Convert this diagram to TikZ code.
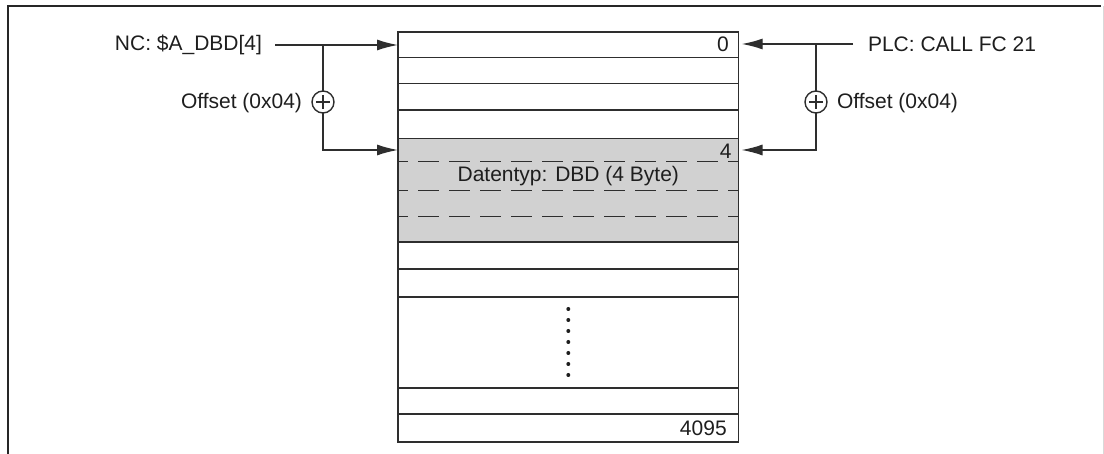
\documentclass[tikz,border=0pt]{standalone}
\usepackage{fontspec}
\setmainfont{Liberation Sans}
\usetikzlibrary{arrows.meta,calc}
\definecolor{linec}{HTML}{2E2E2E}
\definecolor{txtc}{HTML}{1E1E1E}
\definecolor{fillg}{HTML}{D1D1D1}
\begin{document}
\begin{tikzpicture}[x=1pt,y=-1pt,
 lbl/.style={font=\fontsize{21}{25}\selectfont, text=txtc, inner sep=0pt, outer sep=0pt},
 row/.style={draw=linec, line width=1.4pt, minimum width=340.7pt, inner sep=0pt, outer sep=0pt, anchor=north west},
 conn/.style={draw=linec, line width=1.4pt},
 arr/.style={conn, -{Latex[length=21pt,width=11pt]}},
 plus/.style={circle, draw=linec, line width=1.4pt, minimum size=22pt, inner sep=0pt, outer sep=0pt, fill=white,
   path picture={\draw[linec, line width=1.4pt]
     ([xshift=-7pt]path picture bounding box.center) -- ([xshift=7pt]path picture bounding box.center)
     ([yshift=-7pt]path picture bounding box.center) -- ([yshift=7pt]path picture bounding box.center);}},
 dsh/.style={draw=linec, line width=1.4pt, dash pattern=on 21pt off 10pt, dash phase=11pt}]
\useasboundingbox (0,0) rectangle (1104,454);
% frame
\draw[line width=2.2pt, color=black!85] (8,454) -- (8,6) -- (1101,6);
\draw[line width=1pt, color=black!15] (1103,6) -- (1103,454);
% memory rows
\node[row, minimum height=25.5pt] (r0) at (398,32) {};
\node[row, minimum height=26pt] (r1) at (398,57.5) {};
\node[row, minimum height=26.5pt] (r2) at (398,83.5) {};
\node[row, minimum height=28.5pt] (r3) at (398,110) {};
\node[row, fill=fillg, minimum height=103.5pt] (g) at (398,138.5) {};
\node[row, minimum height=27pt] (r5) at (398,242) {};
\node[row, minimum height=28pt] (r6) at (398,269) {};
\node[row, minimum height=91pt] (r7) at (398,297) {};
\node[row, minimum height=26pt] (r8) at (398,388) {};
\node[row, minimum height=28pt] (r9) at (398,414) {};
% dashed byte separators
\draw[dsh] (398,161.7) -- (738.7,161.7);
\draw[dsh] (398,190.7) -- (738.7,190.7);
\draw[dsh] (398,216.7) -- (738.7,216.7);
\node[lbl] (dt) at (568.3,176) {Datentyp: DBD (4 Byte)};
% labels
\node[lbl, anchor=east] (l0) at ([xshift=-10pt]r0.east) {0};
\node[lbl, anchor=east] (l4) at (731.5,151) {4};
\node[lbl, anchor=east] (l4095) at ([xshift=-12pt]r9.east) {4095};
% dots
\foreach \i in {0,...,6} \fill[txtc] (568.3,309+11*\i) circle (2pt);
% left side
\node[lbl, inner xsep=13pt, anchor=east] (nc) at (275,45) {NC: \$A\_DBD[4]};
\coordinate (jl) at (323,45);
\node[plus] (pl) at (323,102) {};
\node[lbl, anchor=east] (offl) at (302,103) {Offset (0x04)};
\coordinate (gl) at (398,150);
\draw[arr] (nc.east) -- (nc.east -| r0.west);
\draw[conn] (jl) -- (pl.north);
\draw[arr] (pl.south) |- (gl);
% right side
\node[lbl, inner xsep=15pt, anchor=west] (plc) at (853,44) {PLC: CALL FC 21};
\coordinate (jr) at (816,44);
\node[plus] (pr) at (816,102) {};
\node[lbl, anchor=west] (offr) at (837,103) {Offset (0x04)};
\coordinate (gr) at (741.5,150);
\draw[arr] (plc.west) -- ([xshift=3pt]plc.west -| r0.east);
\draw[conn] (jr) -- (pr.north);
\draw[arr] (pr.south) |- (gr);
\end{tikzpicture}
\end{document}
